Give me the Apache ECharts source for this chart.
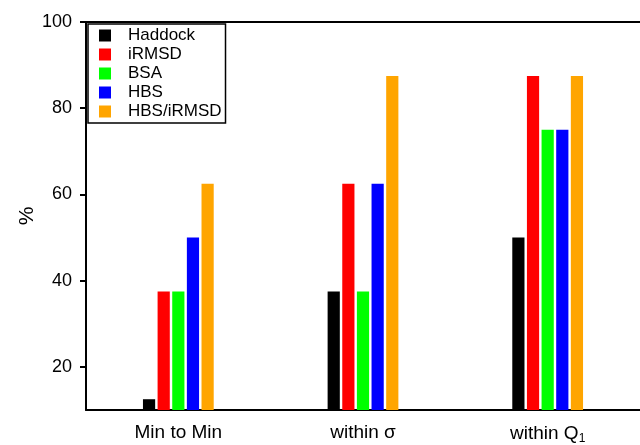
<!DOCTYPE html>
<html>
<head>
<meta charset="utf-8">
<script src="https://cdn.jsdelivr.net/npm/echarts@6/dist/echarts.min.js"></script>
<style>html,body{margin:0;padding:0;background:#fff;}#c{width:640px;height:445px;}</style>
</head>
<body>
<div id="c"></div>
<script>
const categories = ['Min to Min', 'within σ', 'within Q{sub|1}'];
const seriesNames = ['Haddock', 'iRMSD', 'BSA', 'HBS', 'HBS/iRMSD'];
const haddock = [12.5, 37.5, 50];
const irmsd = [37.5, 62.5, 87.5];
const bsa = [37.5, 37.5, 75];
const hbs = [50, 62.5, 75];
const hbsIrmsd = [62.5, 87.5, 87.5];
const yTicks = [20, 40, 60, 80, 100];
const colors = ['#000000', '#ff0000', '#00ff00', '#0000ff', '#ffa500'];
const values = [haddock, irmsd, bsa, hbs, hbsIrmsd];

const chart = echarts.init(document.getElementById('c'), null, {renderer: 'canvas'});
const font = 'Liberation Sans, Arial, Helvetica, sans-serif';
chart.setOption({
  animation: false,
  textStyle: {fontFamily: font},
  grid: {left: 86, top: 22, right: -7, bottom: 30, containLabel: false},
  legend: {
    orient: 'vertical', left: 88, top: 24,
    data: seriesNames,
    itemWidth: 12, itemHeight: 12, itemGap: 0,
    icon: 'rect',
    borderColor: '#000', borderWidth: 1.5, borderRadius: 0,
    padding: [2, 4, 2, 11],
    textStyle: {fontSize: 17, color: '#000', lineHeight: 19, padding: [0, 0, 0, 12], fontFamily: font}
  },
  xAxis: [{
    type: 'category', data: categories,
    axisLine: {lineStyle: {color: '#000', width: 2}},
    axisTick: {alignWithLabel: true, length: 8, lineStyle: {color: '#000', width: 2}},
    axisLabel: {
      color: '#000', fontSize: 19, margin: 13, fontFamily: font,
      rich: {sub: {fontSize: 12, verticalAlign: 'bottom', padding: [10, 0, 0, 0], fontFamily: font, color: '#000'}}
    },
    splitLine: {show: false}
  }, {
    type: 'category', data: categories, position: 'top',
    axisLine: {show: true, lineStyle: {color: '#000', width: 2}},
    axisTick: {show: false}, axisLabel: {show: false}, splitLine: {show: false}
  }],
  yAxis: {
    type: 'value', min: 10, max: 100,
    name: '%', nameLocation: 'middle', nameGap: 48, nameRotate: 90, nameMoveOverlap: false,
    nameTextStyle: {fontSize: 21, color: '#000', fontFamily: font},
    axisLine: {show: true, lineStyle: {color: '#000', width: 2}},
    axisTick: {show: true, length: 6, customValues: yTicks, lineStyle: {color: '#000', width: 2}},
    axisLabel: {color: '#000', fontSize: 18, margin: 14, customValues: yTicks, fontFamily: font},
    splitLine: {show: false}
  },
  series: seriesNames.map((n, i) => ({
    name: n, type: 'bar', data: values[i], xAxisIndex: 0,
    barWidth: 12.2, barGap: '20%',
    itemStyle: {color: colors[i]}
  }))
});
</script>
</body>
</html>
